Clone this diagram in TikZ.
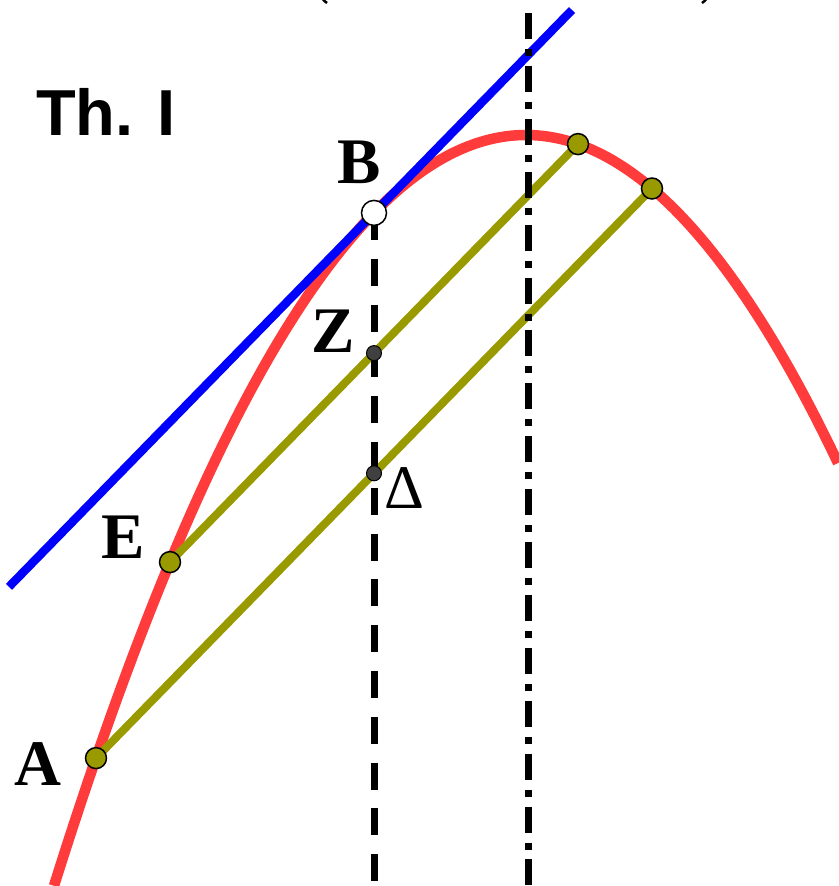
\documentclass[tikz,border=0pt]{standalone}
\usepackage{fontspec}
\setmainfont{Liberation Serif}
\newfontfamily\thfont{Liberation Sans}
\definecolor{curvered}{RGB}{255,59,59}
\definecolor{tanblue}{RGB}{0,0,255}
\definecolor{chordolive}{RGB}{153,153,0}
\definecolor{ptgray}{RGB}{64,64,64}
\begin{document}
\begin{tikzpicture}[x=1pt,y=-1pt,
  curve/.style={line width=10.5pt,color=curvered},
  tangent/.style={line width=8.5pt,color=tanblue},
  chord/.style={line width=8pt,color=chordolive},
  midline/.style={line width=7pt,black,dash pattern=on 27pt off 18.8pt},
  axisline/.style={line width=7pt,black,dash pattern=on 26pt off 10pt on 7pt off 9.9pt},
  olivept/.style={circle,draw=black,line width=1.5pt,fill=chordolive,minimum size=21pt,inner sep=0pt},
  whitept/.style={circle,draw=black,line width=1.5pt,fill=white,minimum size=25pt,inner sep=0pt},
  graypt/.style={circle,draw=black,line width=1pt,fill=ptgray,minimum size=15pt,inner sep=0pt},
  lab/.style={inner sep=0pt,anchor=base,font=\fontsize{65}{65}\selectfont\bfseries},
  lablight/.style={inner sep=0pt,anchor=base,font=\fontsize{62}{62}\selectfont},
  thlab/.style={inner sep=0pt,anchor=base west,font=\thfont\fontsize{65}{65}\selectfont\bfseries}]
\useasboundingbox (0,0) rectangle (838,886);
% coordinates
\coordinate (A) at (96,758.1);
\coordinate (E) at (170,562.1);
\coordinate (B) at (374,212.9);
\coordinate (P) at (578,144.1);
\coordinate (Q) at (652,188.5);
\coordinate (Z) at (374,353.1);
\coordinate (D) at (374,473.3);
\coordinate (T1) at (9,586.8);
\coordinate (T2) at (572,10);
\coordinate (V1) at (374,886);
\coordinate (S1) at (528,13);
\coordinate (S2) at (528,886);
% parabola
\draw[curve] plot[domain=54:838,samples=240] (\x,{135+33.7*((\x-526)/100)^2});
% tangent at B
\draw[tangent] (T1) -- (T2);
% parallel chords
\draw[chord] (E) -- (P);
\draw[chord] (A) -- (Q);
% diameter through B
\draw[midline] (B) -- (V1);
% axis
\draw[axisline] (S1) -- (S2);
% cut-off brackets at the top
\draw[line width=2.5pt] (321,-6) .. controls (323,0) .. (327,3);
\draw[line width=2.5pt] (708,-6) .. controls (706,0) .. (702,3);
% points
\node[olivept] (nA) at (A) {};
\node[olivept] (nE) at (E) {};
\node[olivept] (nP) at (P) {};
\node[olivept] (nQ) at (Q) {};
\node[whitept] (nB) at (B) {};
\node[graypt] (nZ) at (Z) {};
\node[graypt] (nD) at (D) {};
% labels
\node[lab] (lB) at (359,183) {B};
\node[lab] (lZ) at (333,352) {Z};
\node[lablight] (lD) at (404,508) {Δ};
\node[lab] (lE) at (123,558) {E};
\node[lab] (lA) at (38,785) {A};
\node[thlab] (th) at (36,135) {Th. I};
\end{tikzpicture}
\end{document}
